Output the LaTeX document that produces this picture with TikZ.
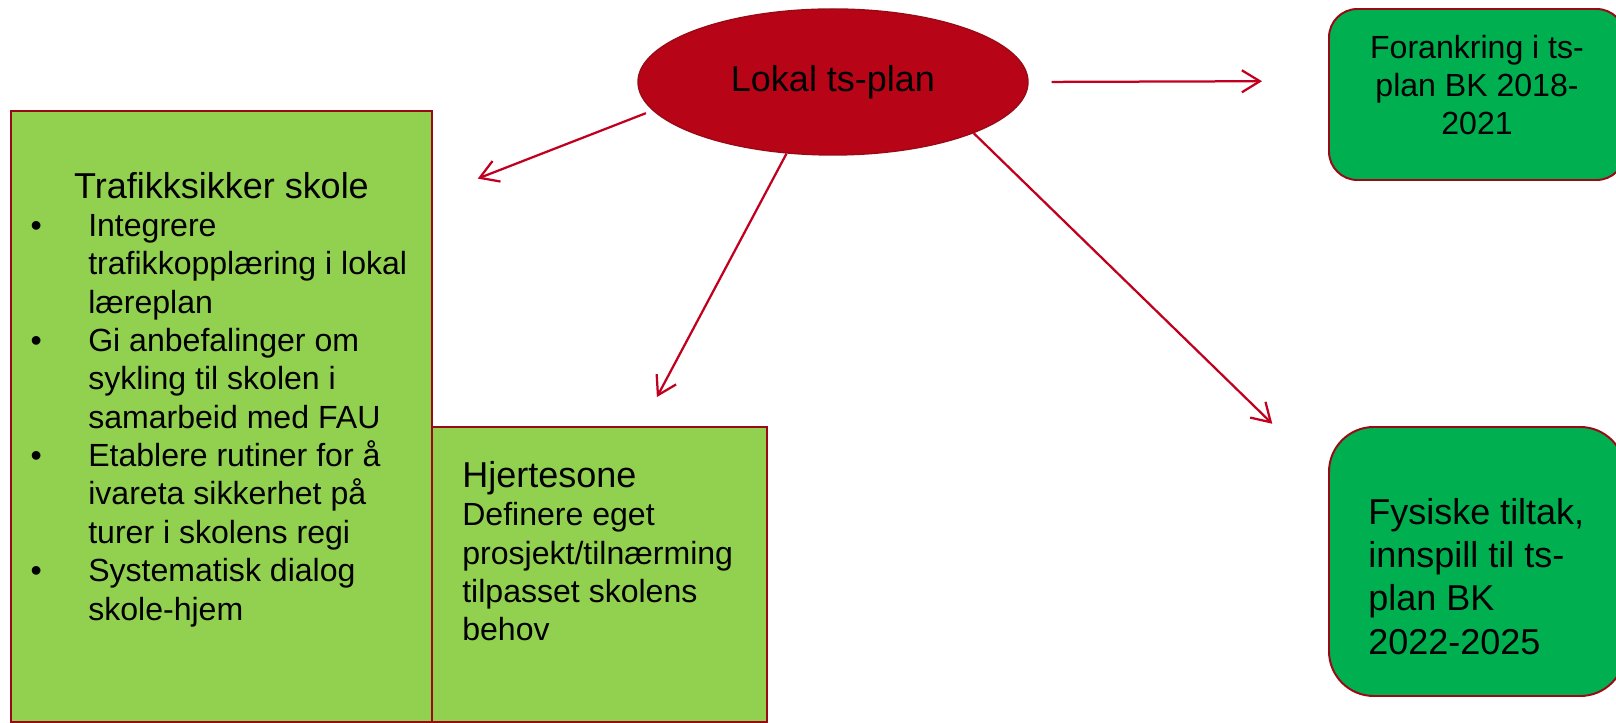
\documentclass[tikz,border=0pt]{standalone}
\usepackage{fontspec}
\setmainfont{Liberation Sans}[Ligatures=NoCommon]
\usepackage{tikz}
\usetikzlibrary{arrows.meta}
\tikzset{>={Straight Barb[length=4.5mm,width=5.5mm]}}
\usetikzlibrary{shapes.geometric,positioning}
\definecolor{planrod}{HTML}{B70517}
\definecolor{kantrod}{HTML}{990A16}
\definecolor{pilrod}{HTML}{C0001E}
\definecolor{lysgronn}{HTML}{92D050}
\definecolor{morkgronn}{HTML}{00B050}
\newcommand{\punkt}{\makebox[1.44cm][l]{\textbullet}}
\newcommand{\innrykk}{\makebox[1.44cm]{}}

\begin{document}
\begin{tikzpicture}[
    stor/.style={font=\fontsize{25.6pt}{30.8pt}\selectfont},
    liten/.style={font=\fontsize{22.8pt}{27.3pt}\selectfont},
    firkant/.style={draw=kantrod, line width=1.4pt, fill=lysgronn, inner sep=0pt},
    rundfirkant/.style={draw=kantrod, line width=1.4pt, fill=morkgronn, inner sep=0pt},
    tekst/.style={inner sep=0pt, align=left},
    pil/.style={->, color=pilrod, line width=1.6pt}
]
    \useasboundingbox (0,0) rectangle (40.4,18.075);
    \node[ellipse,draw=kantrod,line width=1pt,fill=planrod,minimum width=9.75cm,minimum height=3.65cm,inner sep=0pt,stor] at (20.825,16.025) (plan) {Lokal ts-plan};
    \node[rundfirkant,rounded corners=0.71cm,minimum width=7.4cm,minimum height=4.275cm] at (36.925,15.7125) (forankring) {};
    \node[rundfirkant,rounded corners=1.12cm,minimum width=7.4cm,minimum height=6.725cm] at (36.925,4.0375) (fysisk) {};
    \node[firkant,minimum width=10.525cm,minimum height=15.275cm] at (5.5375,7.6625) (skole) {};
    \node[firkant,minimum width=8.375cm,minimum height=7.375cm] at (14.9875,3.7125) (hjerte) {};

    % tekst i boksene
    \node[tekst,align=center,anchor=north,font=\fontsize{22.8pt}{26.9pt}\selectfont] at ([yshift=-0.675cm]forankring.north) (forankringtekst) {Forankring i ts-\\plan BK 2018-\\2021};
    \node[tekst,anchor=north west,stor] at ([xshift=1cm,yshift=-1.8cm]fysisk.north west) (fysisktekst) {Fysiske tiltak,\\innspill til ts-\\plan BK\\2022-2025};
    \node[anchor=base,inner sep=0pt,stor] at ([yshift=-2.2cm]skole.north) (skoletittel) {Trafikksikker skole};
    \node[tekst,anchor=north west,liten] at ([xshift=0.51cm,yshift=-2.6cm]skole.north west) (skoleliste) {%
        \punkt Integrere\\
        \innrykk trafikkopplæring i lokal\\
        \innrykk læreplan\\
        \punkt Gi anbefalinger om\\
        \innrykk sykling til skolen i\\
        \innrykk samarbeid med FAU\\
        \punkt Etablere rutiner for å\\
        \innrykk ivareta sikkerhet på\\
        \innrykk turer i skolens regi\\
        \punkt Systematisk dialog\\
        \innrykk skole-hjem};
    \node[tekst,anchor=north west,liten] at ([xshift=0.775cm,yshift=-0.875cm]hjerte.north west) (hjertetekst) {%
        {\fontsize{25.6pt}{27.3pt}\selectfont Hjertesone}\\
        Definere eget\\
        prosjekt/tilnærming\\
        tilpasset skolens\\
        behov};

    \path
    (plan.east) edge [pil,shorten <=0.575cm,shorten >=1.65cm] ([yshift=-1.825cm]forankring.north west)
    (plan.189) edge [pil,shorten <=0.18cm,shorten >=1.2cm] ([yshift=-2.15cm]skole.north east)
    (plan.237) edge [pil,shorten >=0.82cm] ([xshift=1.05cm]hjerte.north)
    (plan.340) edge [pil,shorten >=1.945cm] ([yshift=-1.3cm]fysisk.north west)
    ;
\end{tikzpicture}
\end{document}
